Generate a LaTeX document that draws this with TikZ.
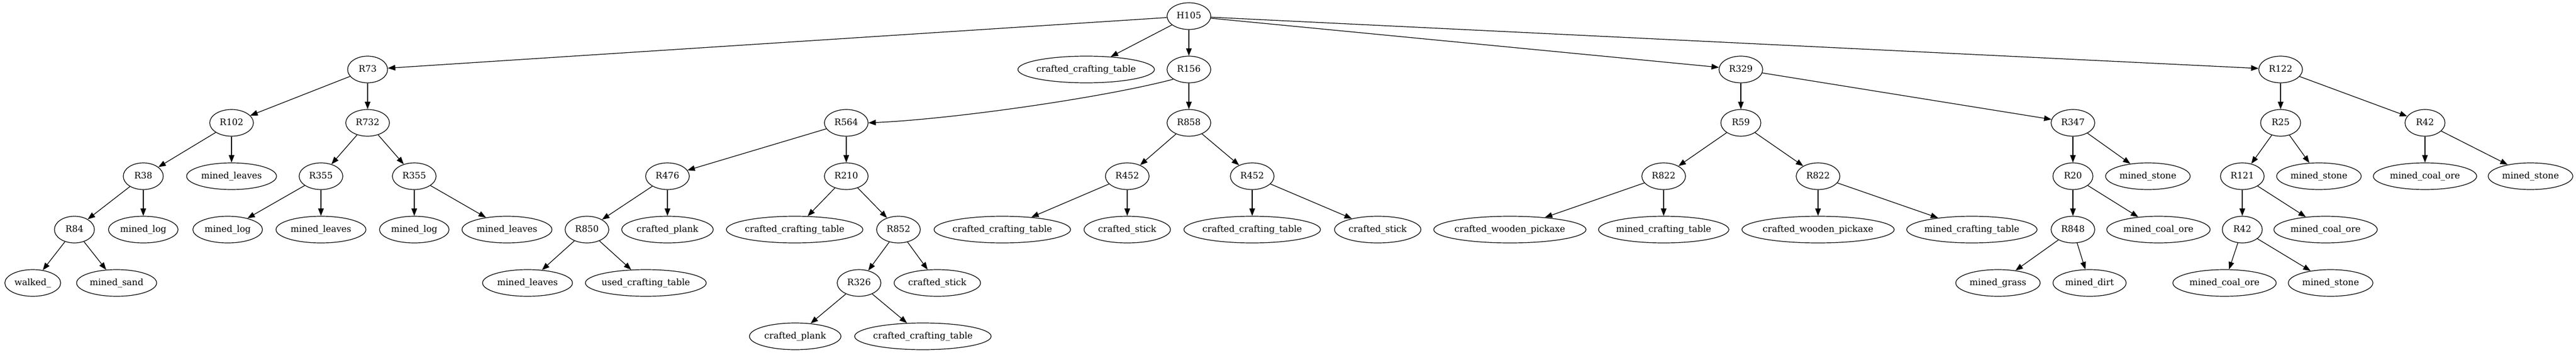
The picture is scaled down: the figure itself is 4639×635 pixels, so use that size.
\documentclass[tikz,border=0pt]{standalone}
\usepackage{fontspec}
\setmainfont{DejaVu Serif}
\usetikzlibrary{shapes.geometric,arrows.meta}
\begin{document}
\begin{tikzpicture}[x=0.75pt,y=-0.75pt,
  nd/.style={draw,ellipse,line width=0.9pt,minimum width=54pt,minimum height=36pt,
    inner xsep=2pt,inner ysep=0pt,font=\fontsize{12}{14}\selectfont,text height=9pt,text depth=2.5pt},
  wide/.style={minimum width=59pt},
  long/.style={inner xsep=-2pt},
  edge/.style={line width=0.9pt,-{Triangle[length=10pt,width=7.5pt]}}]
\fill[white] (0,0) rectangle (4639,635);
\useasboundingbox (0,0) rectangle (4639,635);
% rank 0
\node[nd,wide] (H105) at (2141,29) {H105};
% rank 1
\node[nd] (R73) at (662,125) {R73};
\node[nd,long] (cctA) at (1956,125) {crafted\_crafting\_table};
\node[nd,wide] (R156) at (2141,125) {R156};
\node[nd,wide] (R329) at (3135,125) {R329};
\node[nd,wide] (R122) at (4107,125) {R122};
% rank 2
\node[nd,wide] (R102) at (417,221) {R102};
\node[nd,wide] (R732) at (662,221) {R732};
\node[nd,wide] (R564) at (1524,221) {R564};
\node[nd,wide] (R858) at (2141,221) {R858};
\node[nd] (R59) at (3135,221) {R59};
\node[nd,wide] (R347) at (3733,221) {R347};
\node[nd] (R25) at (4107,221) {R25};
\node[nd] (R42a) at (4367,221) {R42};
% rank 3
\node[nd] (R38) at (258,317) {R38};
\node[nd] (mlA) at (417,317) {mined\_leaves};
\node[nd,wide] (R355a) at (578,317) {R355};
\node[nd,wide] (R355b) at (746,317) {R355};
\node[nd,wide] (R476) at (1202,317) {R476};
\node[nd,wide] (R210) at (1524,317) {R210};
\node[nd,wide] (R452a) at (2030,317) {R452};
\node[nd,wide] (R452b) at (2255,317) {R452};
\node[nd,wide] (R822a) at (2996,317) {R822};
\node[nd,wide] (R822b) at (3274,317) {R822};
\node[nd] (R20) at (3733,317) {R20};
\node[nd] (msA) at (3868,317) {mined\_stone};
\node[nd,wide] (R121) at (4038,317) {R121};
\node[nd] (msB) at (4176,317) {mined\_stone};
\node[nd] (mcoA) at (4367,317) {mined\_coal\_ore};
\node[nd] (msC) at (4557,317) {mined\_stone};
% rank 4
\node[nd] (R84) at (134,413) {R84};
\node[nd] (mlogA) at (258,413) {mined\_log};
\node[nd] (mlogB) at (410,413) {mined\_log};
\node[nd] (mlB) at (578,413) {mined\_leaves};
\node[nd] (mlogC) at (746,413) {mined\_log};
\node[nd] (mlC) at (913,413) {mined\_leaves};
\node[nd,wide] (R850) at (1057,413) {R850};
\node[nd] (cpA) at (1202,413) {crafted\_plank};
\node[nd,long] (cctB) at (1431,413) {crafted\_crafting\_table};
\node[nd,wide] (R852) at (1618,413) {R852};
\node[nd,long] (cctC) at (1805,413) {crafted\_crafting\_table};
\node[nd] (csA) at (2030,413) {crafted\_stick};
\node[nd,long] (cctD) at (2255,413) {crafted\_crafting\_table};
\node[nd] (csB) at (2481,413) {crafted\_stick};
\node[nd,long] (cwpA) at (2719,413) {crafted\_wooden\_pickaxe};
\node[nd,long] (mctA) at (2996,413) {mined\_crafting\_table};
\node[nd,long] (cwpB) at (3274,413) {crafted\_wooden\_pickaxe};
\node[nd,long] (mctB) at (3551,413) {mined\_crafting\_table};
\node[nd,wide] (R848) at (3733,413) {R848};
\node[nd] (mcoB) at (3887,413) {mined\_coal\_ore};
\node[nd] (R42b) at (4038,413) {R42};
\node[nd] (mcoC) at (4188,413) {mined\_coal\_ore};
% rank 5
\node[nd] (walked) at (59,509) {walked\_};
\node[nd] (msand) at (210,509) {mined\_sand};
\node[nd] (mlD) at (950,509) {mined\_leaves};
\node[nd,long] (uct) at (1163,509) {used\_crafting\_table};
\node[nd,wide] (R326) at (1547,509) {R326};
\node[nd] (csC) at (1688,509) {crafted\_stick};
\node[nd] (mgrass) at (3598,509) {mined\_grass};
\node[nd] (mdirt) at (3763,509) {mined\_dirt};
\node[nd] (mcoD) at (4006,509) {mined\_coal\_ore};
\node[nd] (msD) at (4197,509) {mined\_stone};
% rank 6
\node[nd] (cpB) at (1432,605) {crafted\_plank};
\node[nd,long] (cctE) at (1662,605) {crafted\_crafting\_table};
% edges
\draw[edge] (H105) -- (R73);
\draw[edge] (H105) -- (cctA);
\draw[edge] (H105) -- (R156);
\draw[edge] (H105) -- (R329);
\draw[edge] (H105) -- (R122);
\draw[edge] (R73) -- (R102);
\draw[edge] (R73) -- (R732);
\draw[edge] (R102) -- (R38);
\draw[edge] (R102) -- (mlA);
\draw[edge] (R38) -- (R84);
\draw[edge] (R38) -- (mlogA);
\draw[edge] (R84) -- (walked);
\draw[edge] (R84) -- (msand);
\draw[edge] (R732) -- (R355a);
\draw[edge] (R732) -- (R355b);
\draw[edge] (R355a) -- (mlogB);
\draw[edge] (R355a) -- (mlB);
\draw[edge] (R355b) -- (mlogC);
\draw[edge] (R355b) -- (mlC);
\draw[edge] (R156.212) .. controls (1990,175) and (1720,214) .. (R564.east);
\draw[edge] (R156) -- (R858);
\draw[edge] (R564) -- (R476);
\draw[edge] (R564) -- (R210);
\draw[edge] (R476) -- (R850);
\draw[edge] (R476) -- (cpA);
\draw[edge] (R850) -- (mlD);
\draw[edge] (R850) -- (uct);
\draw[edge] (R210) -- (cctB);
\draw[edge] (R210) -- (R852);
\draw[edge] (R852) -- (R326);
\draw[edge] (R852) -- (csC);
\draw[edge] (R326) -- (cpB);
\draw[edge] (R326) -- (cctE);
\draw[edge] (R858) -- (R452a);
\draw[edge] (R858) -- (R452b);
\draw[edge] (R452a) -- (cctC);
\draw[edge] (R452a) -- (csA);
\draw[edge] (R452b) -- (cctD);
\draw[edge] (R452b) -- (csB);
\draw[edge] (R329) -- (R59);
\draw[edge] (R329) -- (R347);
\draw[edge] (R59) -- (R822a);
\draw[edge] (R59) -- (R822b);
\draw[edge] (R822a) -- (cwpA);
\draw[edge] (R822a) -- (mctA);
\draw[edge] (R822b) -- (cwpB);
\draw[edge] (R822b) -- (mctB);
\draw[edge] (R347) -- (R20);
\draw[edge] (R347) -- (msA);
\draw[edge] (R20) -- (R848);
\draw[edge] (R20) -- (mcoB);
\draw[edge] (R848) -- (mgrass);
\draw[edge] (R848) -- (mdirt);
\draw[edge] (R122) -- (R25);
\draw[edge] (R122) -- (R42a);
\draw[edge] (R25) -- (R121);
\draw[edge] (R25) -- (msB);
\draw[edge] (R121) -- (R42b);
\draw[edge] (R121) -- (mcoC);
\draw[edge] (R42b) -- (mcoD);
\draw[edge] (R42b) -- (msD);
\draw[edge] (R42a) -- (mcoA);
\draw[edge] (R42a) -- (msC);
\end{tikzpicture}
\end{document}
